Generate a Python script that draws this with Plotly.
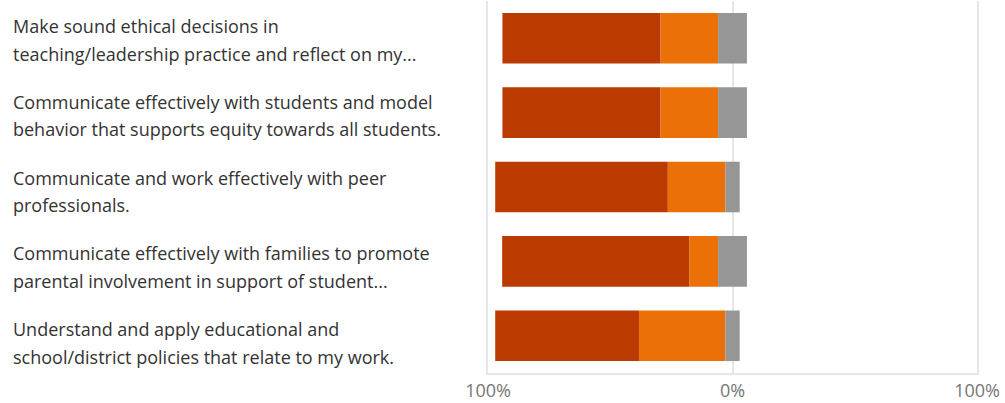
import plotly.graph_objects as go
import numpy as np

# ---- data ----
label_line1 = [
    "Make sound ethical decisions in",
    "Communicate effectively with students and model",
    "Communicate and work effectively with peer",
    "Communicate effectively with families to promote",
    "Understand and apply educational and",
]
label_line2 = [
    "teaching/leadership practice and reflect on my...",
    "behavior that supports equity towards all students.",
    "professionals.",
    "parental involvement in support of student...",
    "school/district policies that relate to my work.",
]
categories = [a + " " + b for a, b in zip(label_line1, label_line2)]
strongly_agree = [64.7, 64.7, 70.6, 76.5, 58.8]
agree = [23.5, 23.5, 23.5, 11.8, 35.3]
neutral = [11.8, 11.8, 5.9, 11.8, 5.9]
tick_vals = [-100, 0, 100]
tick_text = ["100%", "0%", "100%"]

# ---- styling ----
C_SA = "#BB3A00"
C_A = "#EA7007"
C_N = "#969696"
GRID = "#E6E6E6"
FONT = "Open Sans"

sa = np.array(strongly_agree)
ag = np.array(agree)
ne = np.array(neutral)

neu_base = -ne / 2
ag_base = neu_base - ag
sa_base = ag_base - sa

fig = go.Figure()
fig.add_trace(go.Bar(y=categories, x=sa, base=sa_base, orientation="h",
                     marker=dict(color=C_SA, line=dict(width=0)), name="Strongly agree"))
fig.add_trace(go.Bar(y=categories, x=ag, base=ag_base, orientation="h",
                     marker=dict(color=C_A, line=dict(width=0)), name="Agree"))
fig.add_trace(go.Bar(y=categories, x=ne, base=neu_base, orientation="h",
                     marker=dict(color=C_N, line=dict(width=0)), name="Neutral"))

W, H = 1005, 403
ml, mr, mt, mb = 488, 28, 1, 27
pw = W - ml - mr

annotations = []
for i, (cat, l1, l2) in enumerate(zip(categories, label_line1, label_line2)):
    drift = 1.33 * i
    for txt, shift in ((l1, 12 - drift), (l2, -15.5 - drift)):
        annotations.append(dict(
            text=txt, xref="paper", yref="y", x=-(ml - 11) / pw, y=cat,
            xanchor="left", yanchor="middle", yshift=shift, showarrow=False,
            font=dict(family=FONT, size=18, color="#333333"), align="left"))

fig.update_layout(
    width=W, height=H,
    margin=dict(l=ml, r=mr, t=mt, b=mb, pad=0),
    barmode="overlay", bargap=0.32,
    showlegend=False,
    plot_bgcolor="white", paper_bgcolor="white",
    font=dict(family=FONT),
    annotations=annotations,
    xaxis=dict(range=[-100, 100], tickvals=tick_vals, ticktext=tick_text,
               showgrid=True, gridcolor=GRID, gridwidth=2, zeroline=False,
               showline=True, linecolor=GRID, linewidth=2,
               ticks="", tickfont=dict(family=FONT, size=18, color="#767676"),
               layer="above traces", fixedrange=True),
    yaxis=dict(categoryorder="array", categoryarray=categories[::-1],
               showticklabels=False, showgrid=False, zeroline=False,
               showline=True, mirror=True, linecolor=GRID, linewidth=2,
               ticks="", fixedrange=True),
)

fig.write_html("out.html", config={"displayModeBar": False},
               post_script="document.body.style.margin='0';document.body.style.overflow='hidden';")
